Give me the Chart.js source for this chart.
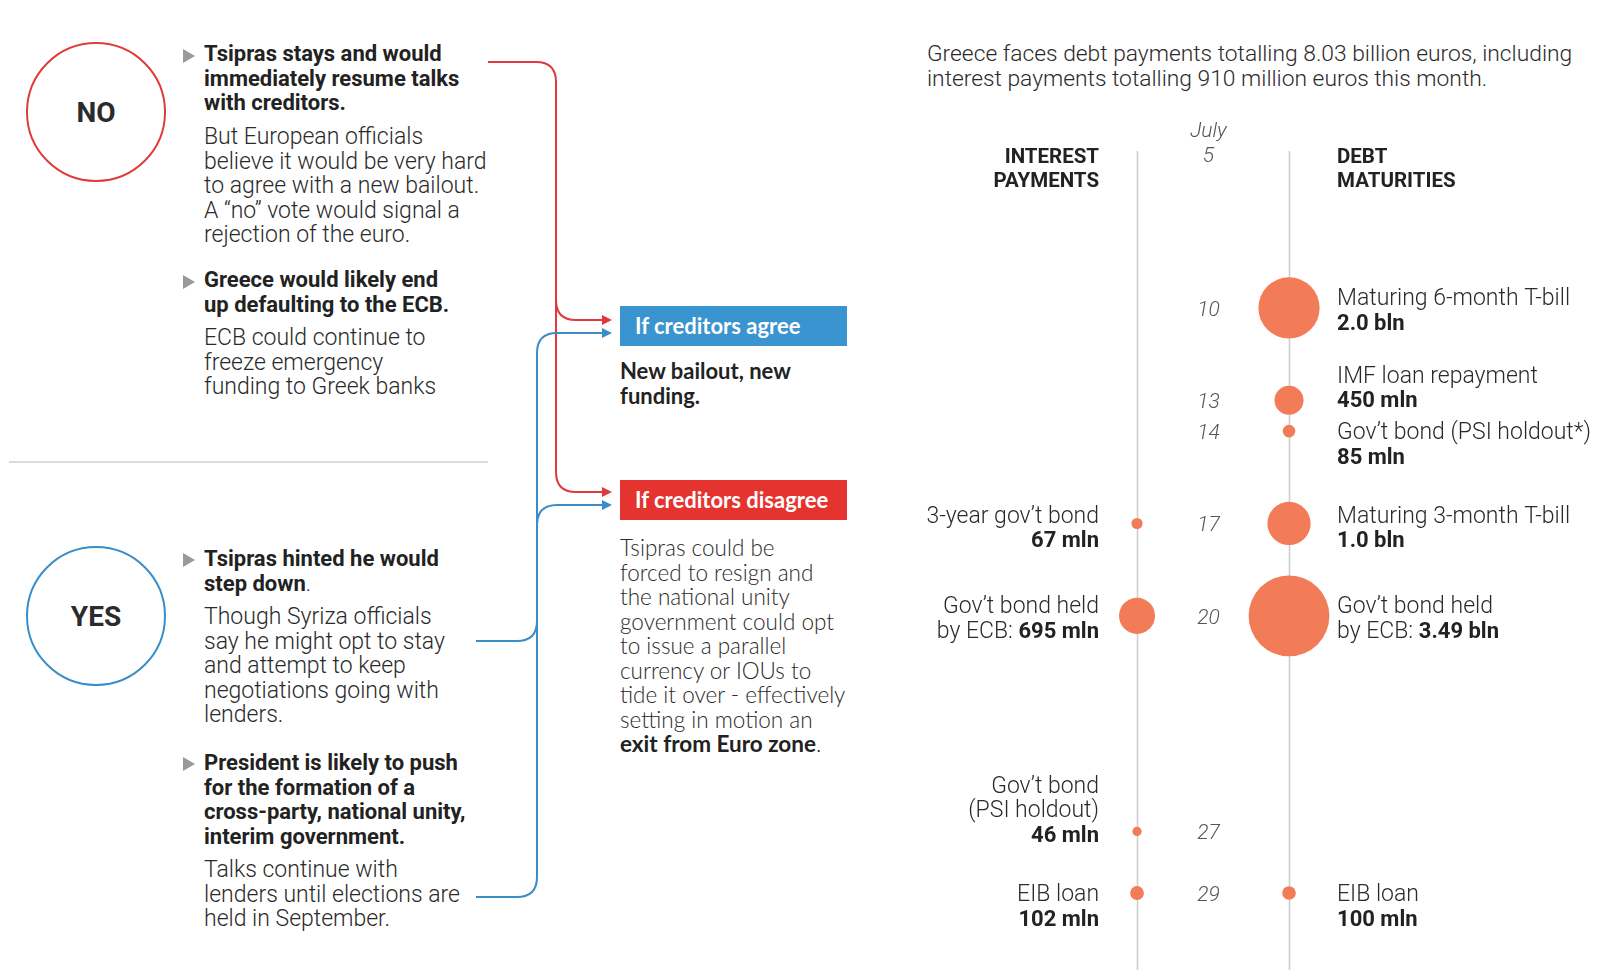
<!DOCTYPE html>
<html>
<head>
<meta charset="utf-8">
<script src="https://cdn.jsdelivr.net/npm/chart.js@4"></script>
<style>
  body { margin: 0; background: #fff; }
  #page { position: relative; width: 1600px; height: 970px; overflow: hidden; font-family: Roboto, sans-serif; color: #333; }
  .t { position: absolute; line-height: 24.5px; white-space: nowrap; }
  .b { font-weight: 700; font-size: 22px; color: #222; }
  .l { font-weight: 300; font-size: 23px; color: #2a2a2a; }
  .lato { font-family: Lato, sans-serif; }
  .box { position: absolute; left: 620px; width: 227px; height: 40px; color: #fff; font: 700 22px Lato, sans-serif; line-height: 40px; padding-left: 15px; box-sizing: border-box; }
  #chartWrap { position: absolute; left: 880px; top: 0; width: 720px; height: 970px; }
</style>
</head>
<body>
<div id="page">
  <svg width="900" height="970" style="position:absolute;left:0;top:0">
    <circle cx="96" cy="112" r="69" fill="none" stroke="#e0393e" stroke-width="2"/>
    <circle cx="96" cy="616" r="69" fill="none" stroke="#3a8dc8" stroke-width="2"/>
    <line x1="9" y1="462" x2="488" y2="462" stroke="#cfcfcf" stroke-width="1.5"/>
    <g fill="#9a9a9a">
      <polygon points="183,49 195,56 183,63"/>
      <polygon points="183,275 195,282 183,289"/>
      <polygon points="183,553 195,560 183,567"/>
      <polygon points="183,757 195,764 183,771"/>
    </g>
    <!-- red connectors (NO) -->
    <g fill="none" stroke="#e0393e" stroke-width="2">
      <path d="M488,62 H536 Q556,62 556,82 V300 Q556,320 576,320 H604"/>
      <path d="M556,300 V472 Q556,492 576,492 H604"/>
    </g>
    <g fill="#e0393e">
      <polygon points="612,320 602,315 602,325"/>
      <polygon points="612,492 602,487 602,497"/>
    </g>
    <!-- blue connectors (YES) -->
    <g fill="none" stroke="#3a8dc8" stroke-width="2">
      <path d="M476,641 H517 Q537,641 537,621 V353 Q537,333 557,333 H604"/>
      <path d="M537,525 Q537,505 557,505 H604"/>
      <path d="M476,897 H517 Q537,897 537,877 V621"/>
    </g>
    <g fill="#3a8dc8">
      <polygon points="612,333 602,328 602,338"/>
      <polygon points="612,505 602,500 602,510"/>
    </g>
    <text x="96" y="122" text-anchor="middle" font-family="Roboto" font-weight="700" font-size="28" fill="#2b2b2b">NO</text>
    <text x="96" y="626" text-anchor="middle" font-family="Roboto" font-weight="700" font-size="28" fill="#2b2b2b">YES</text>
  </svg>

  <div class="t b" style="left:204px;top:42px">Tsipras stays and would<br>immediately resume talks<br>with creditors.</div>
  <div class="t l" style="left:204px;top:125px">But European officials<br>believe it would be very hard<br>to agree with a new bailout.<br>A “no” vote would signal a<br>rejection of the euro.</div>
  <div class="t b" style="left:204px;top:268px">Greece would likely end<br>up defaulting to the ECB.</div>
  <div class="t l" style="left:204px;top:326px">ECB could continue to<br>freeze emergency<br>funding to Greek banks</div>

  <div class="t b" style="left:204px;top:547px">Tsipras hinted he would<br>step down<span style="font-weight:300">.</span></div>
  <div class="t l" style="left:204px;top:605px">Though Syriza officials<br>say he might opt to stay<br>and attempt to keep<br>negotiations going with<br>lenders.</div>
  <div class="t b" style="left:204px;top:751px">President is likely to push<br>for the formation of a<br>cross-party, national unity,<br>interim government.</div>
  <div class="t l" style="left:204px;top:858px">Talks continue with<br>lenders until elections are<br>held in September.</div>

  <div class="box" style="top:306px;background:#3a94cf">If creditors agree</div>
  <div class="t lato" style="left:620px;top:359px;font-weight:700;font-size:22px;color:#222">New bailout, new<br>funding.</div>
  <div class="box" style="top:480px;background:#e5332f">If creditors disagree</div>
  <div class="t lato" style="left:620px;top:536px;font-weight:300;font-size:22.5px;color:#2a2a2a">Tsipras could be<br>forced to resign and<br>the national unity<br>government could opt<br>to issue a parallel<br>currency or IOUs to<br>tide it over - effectively<br>setting in motion an<br><b style="font-weight:700;color:#222">exit from Euro zone</b>.</div>

  <div class="t l" style="left:927px;top:41px;font-size:22.8px;line-height:25px">Greece faces debt payments totalling 8.03 billion euros, including<br>interest payments totalling 910 million euros this month.</div>

  <div id="chartWrap"><canvas id="debt-chart" width="720" height="970"></canvas></div>
</div>

<script>
// July 2015 payments, million euros
var interestDays = [17, 20, 27, 29]
var interestValues = [67, 695, 46, 102]
var debtDays = [10, 13, 14, 17, 20, 29]
var debtValues = [2000, 450, 85, 1000, 3490, 100]
var dayTicks = [5, 10, 13, 14, 17, 20, 27, 29]

// label lines, each a list of [text, bold] pieces
var interestLabels = [
  [[['3-year gov’t bond', 0]], [['67 mln', 1]]],
  [[['Gov’t bond held', 0]], [['by ECB: ', 0], ['695 mln', 1]]],
  [[['Gov’t bond', 0]], [['(PSI holdout)', 0]], [['46 mln', 1]]],
  [[['EIB loan', 0]], [['102 mln', 1]]],
]
var debtLabels = [
  [[['Maturing 6-month T-bill', 0]], [['2.0 bln', 1]]],
  [[['IMF loan repayment', 0]], [['450 mln', 1]]],
  [[['Gov’t bond (PSI holdout*)', 0]], [['85 mln', 1]]],
  [[['Maturing 3-month T-bill', 0]], [['1.0 bln', 1]]],
  [[['Gov’t bond held', 0]], [['by ECB: ', 0], ['3.49 bln', 1]]],
  [[['EIB loan', 0]], [['100 mln', 1]]],
]
// where the first label line sits relative to its bubble (px)
var interestLabelShift = [-9, -11, -47, 0]
var debtLabelShift = [-11, -26, 0, -9, -11, 0]

var RADIUS_K = 0.684 // bubble area ~ value
var LINE_H = 24.8
var TEXT_DY = 2.5 // 'middle' baseline sits a bit high
var ORANGE = '#f27b58'

function bubbles(x, days, values) {
  return days.map(function (d, i) {
    return { x: x, y: d, r: RADIUS_K * Math.sqrt(values[i]) }
  })
}

function drawLine(ctx, segs, x, y, align) {
  var fonts = segs.map(function (s) {
    return s[1] ? '700 22px Roboto' : '300 23px Roboto'
  })
  var total = 0
  segs.forEach(function (s, i) {
    ctx.font = fonts[i]
    total += ctx.measureText(s[0]).width
  })
  var cx = align === 'right' ? x - total : x
  ctx.textAlign = 'left'
  segs.forEach(function (s, i) {
    ctx.font = fonts[i]
    ctx.fillStyle = s[1] ? '#222' : '#2a2a2a'
    ctx.fillText(s[0], cx, y + TEXT_DY)
    cx += ctx.measureText(s[0]).width
  })
}

var timeline = {
  id: 'timeline',
  beforeDatasetsDraw: function (chart) {
    var ctx = chart.ctx
    var xs = chart.scales.x
    var ys = chart.scales.y
    ctx.save()
    ctx.strokeStyle = '#cccccc'
    ctx.lineWidth = 1.5
    ;[0, 1].forEach(function (v) {
      var px = Math.round(xs.getPixelForValue(v)) + 0.5
      ctx.beginPath()
      ctx.moveTo(px, ys.getPixelForValue(4.9))
      ctx.lineTo(px, chart.chartArea.bottom)
      ctx.stroke()
    })
    ctx.restore()
  },
  afterDatasetsDraw: function (chart) {
    var ctx = chart.ctx
    var xs = chart.scales.x
    var ys = chart.scales.y
    var ipx = xs.getPixelForValue(0)
    var dpx = xs.getPixelForValue(1)
    var mid = xs.getPixelForValue(0.47)
    ctx.save()
    ctx.textBaseline = 'middle'

    // day ticks
    ctx.fillStyle = '#555'
    ctx.font = 'italic 300 21px Roboto'
    ctx.textAlign = 'center'
    dayTicks.forEach(function (d) {
      ctx.fillText(String(d), mid, ys.getPixelForValue(d) + TEXT_DY)
    })
    ctx.fillText('July', mid, ys.getPixelForValue(5) - 25 + TEXT_DY)

    // column headers
    var top = ys.getPixelForValue(5) + TEXT_DY + 1
    ctx.font = '700 20.5px Roboto'
    ctx.fillStyle = '#222'
    ctx.textAlign = 'right'
    ctx.fillText('INTEREST', ipx - 38, top)
    ctx.fillText('PAYMENTS', ipx - 38, top + LINE_H)
    ctx.textAlign = 'left'
    ctx.fillText('DEBT', dpx + 48, top)
    ctx.fillText('MATURITIES', dpx + 48, top + LINE_H)

    interestDays.forEach(function (d, i) {
      var y0 = ys.getPixelForValue(d) + interestLabelShift[i]
      interestLabels[i].forEach(function (line, j) {
        drawLine(ctx, line, ipx - 38, y0 + j * LINE_H, 'right')
      })
    })
    debtDays.forEach(function (d, i) {
      var y0 = ys.getPixelForValue(d) + debtLabelShift[i]
      debtLabels[i].forEach(function (line, j) {
        drawLine(ctx, line, dpx + 48, y0 + j * LINE_H, 'left')
      })
    })
    ctx.restore()
  },
}

var ctx = document.getElementById('debt-chart')
new Chart(ctx, {
  type: 'bubble',
  data: {
    datasets: [
      {
        label: 'Interest payments',
        data: bubbles(0, interestDays, interestValues),
        backgroundColor: ORANGE,
        borderWidth: 0,
      },
      {
        label: 'Debt maturities',
        data: bubbles(1, debtDays, debtValues),
        backgroundColor: ORANGE,
        borderWidth: 0,
      },
    ],
  },
  options: {
    responsive: false,
    maintainAspectRatio: false,
    animation: false,
    events: [],
    layout: { padding: 0, autoPadding: false },
    scales: {
      x: { type: 'linear', min: -1.691, max: 3.046, display: false },
      y: { type: 'linear', min: 0, max: 31.5, reverse: true, display: false },
    },
    plugins: {
      legend: { display: false },
      tooltip: { enabled: false },
    },
  },
  plugins: [timeline],
})
</script>
</body>
</html>
